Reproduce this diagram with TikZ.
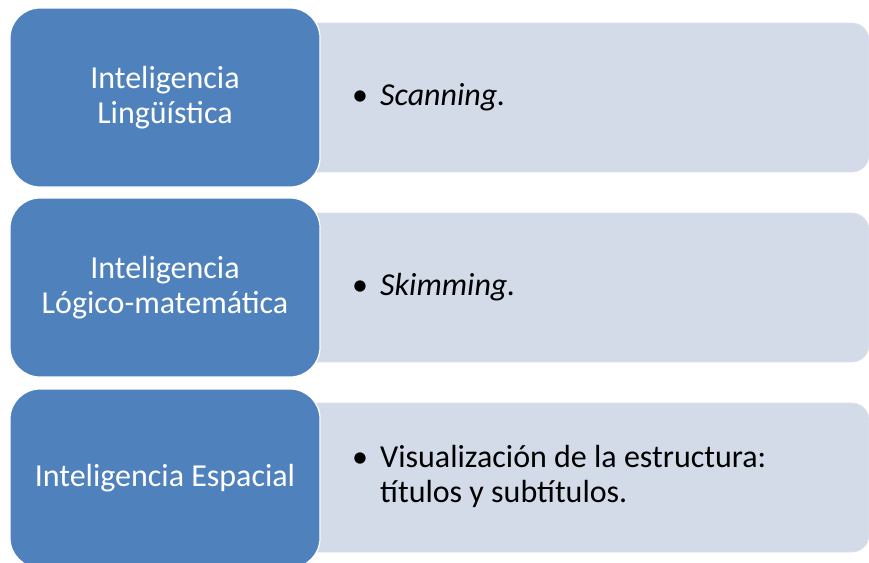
\documentclass[tikz,border=0pt]{standalone}
\usepackage{fontspec}
\setmainfont{Carlito}
\definecolor{blueA}{RGB}{79,129,189}
\definecolor{lightA}{RGB}{211,219,233}
\tikzset{
  catbox/.style={draw=white, line width=1.2pt, fill=blueA, rounded corners=30pt,
    minimum width=310pt, minimum height=179pt, text=white, inner sep=0pt,
    font=\fontsize{32}{35}\selectfont, align=center},
  detbox/.style={fill=lightA, draw=lightA!80!white, line width=0.6pt, rounded corners=17pt,
    minimum width=569pt, minimum height=149pt, inner sep=0pt},
  itemtext/.style={anchor=west, inner sep=0pt, align=left,
    font=\fontsize{32}{35}\selectfont, text=black}
}
\begin{document}
\begin{tikzpicture}[x=1pt,y=-1pt]
\useasboundingbox (0,0) rectangle (869,562);
\clip (0,0) rectangle (869,562);
% detail boxes
\node[detbox] (d1) at (584.5,97.5) {};
\node[detbox] (d2) at (584.5,287.5) {};
\node[detbox] (d3) at (584.5,477.5) {};
% category boxes
\node[catbox] (c1) at (165,97.5) {Inteligencia\\Lingüística};
\node[catbox] (c2) at (165,287.5) {Inteligencia\\Lógico-matemática};
\node[catbox] (c3) at (165,478.5) {Inteligencia Espacial};
% items
\node[itemtext] (t1) at (352,97.5) {\makebox[28pt][l]{\textbullet}\textit{Scanning.}};
\node[itemtext] (t2) at (352,287.5) {\makebox[28pt][l]{\textbullet}\textit{Skimming.}};
\node[itemtext] (t3) at (352,476.5) {\makebox[28pt][l]{\textbullet}Visualización de la estructura:\\\hspace*{28pt}títulos y subtítulos.};
\end{tikzpicture}
\end{document}
